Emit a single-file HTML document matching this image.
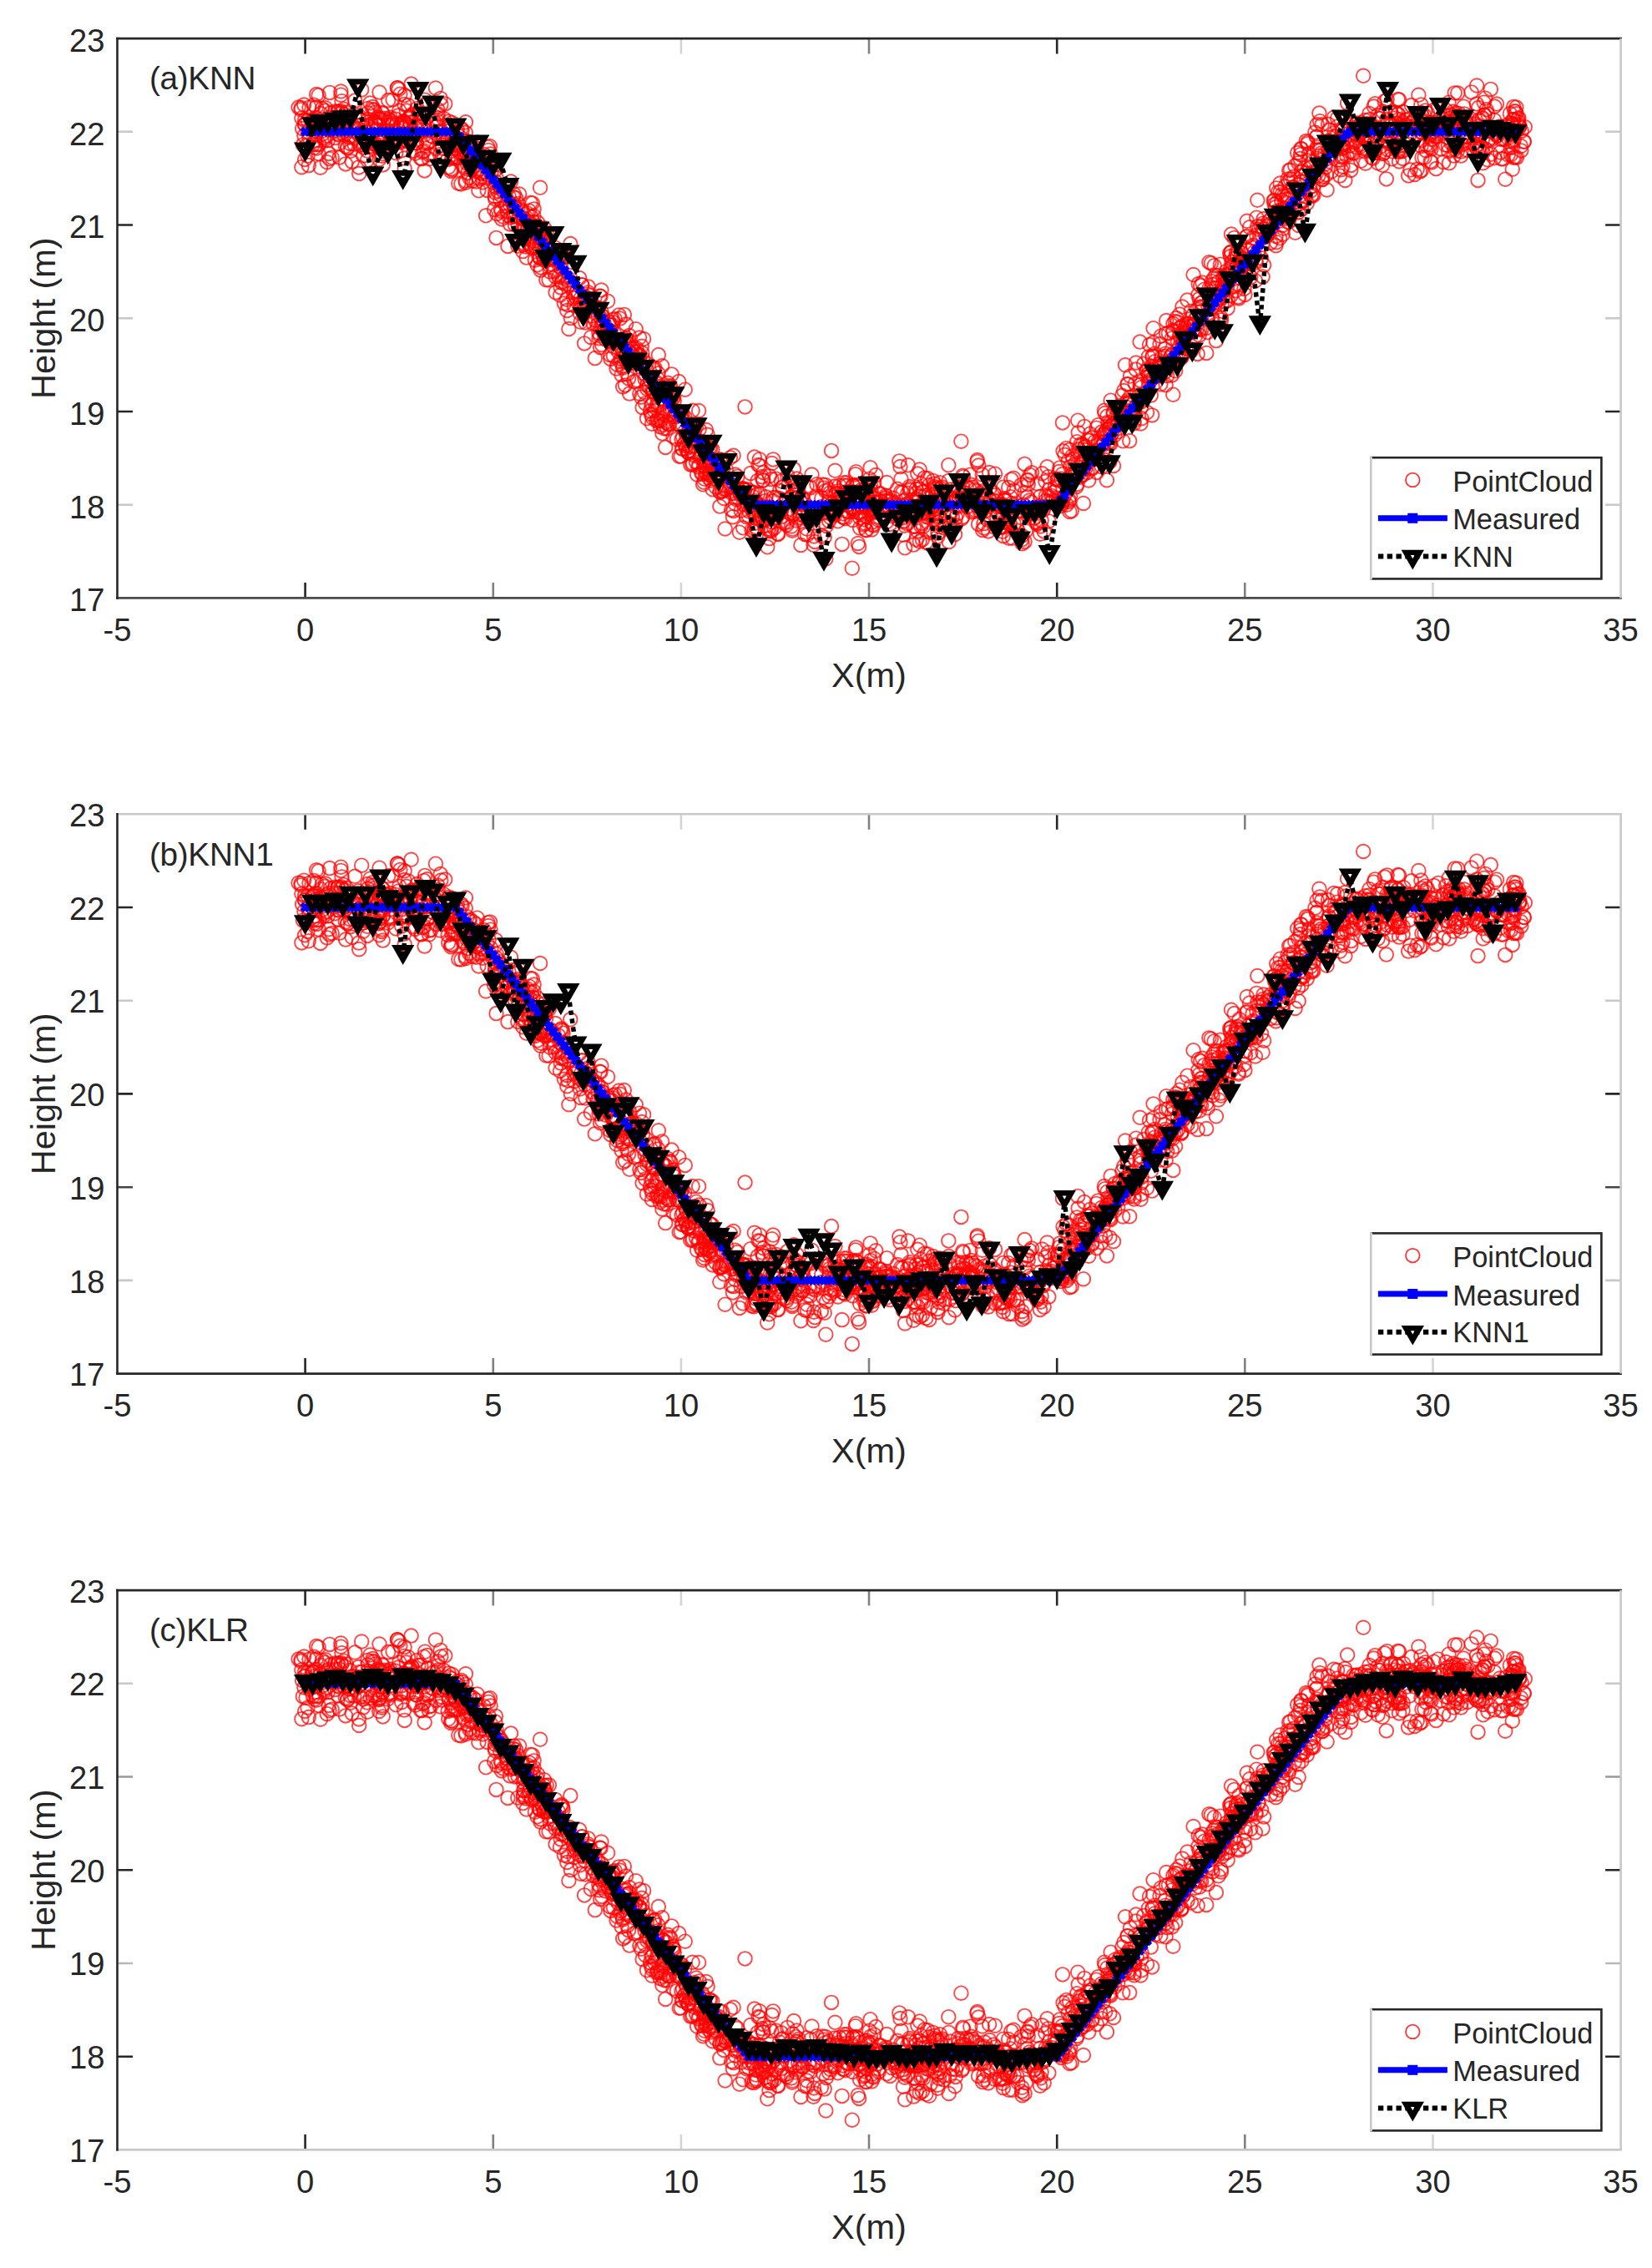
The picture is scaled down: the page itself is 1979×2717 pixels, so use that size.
<!DOCTYPE html>
<html><head><meta charset="utf-8"><title>KNN KNN1 KLR profile comparison</title>
<style>html,body{margin:0;padding:0;background:#fff}svg{display:block}text{fill:#262626}</style></head>
<body>
<svg width="1979" height="2717" viewBox="0 0 1979 2717" font-family="Liberation Sans, Arial, Helvetica, sans-serif">
<defs>
<marker id="mc" markerUnits="userSpaceOnUse" markerWidth="22" markerHeight="22" refX="11" refY="11" overflow="visible"><circle cx="11" cy="11" r="8.3" fill="none" stroke="#ff0000" stroke-width="1.9" stroke-opacity="0.72"/></marker>
<marker id="mx" markerUnits="userSpaceOnUse" markerWidth="16" markerHeight="16" refX="8" refY="8" overflow="visible"><path d="M3.8,3.8L12.2,12.2M12.2,3.8L3.8,12.2" stroke="#0000ff" stroke-width="5" fill="none"/></marker>
<marker id="mt" markerUnits="userSpaceOnUse" markerWidth="40" markerHeight="40" refX="20" refY="20" overflow="visible"><path d="M6.3,8.1H33.7L20,31.9ZM17.5,14.6H22.5L20,18.9Z" fill="#000" fill-rule="evenodd"/></marker>
<filter id="bl" x="-5%" y="-5%" width="110%" height="110%"><feGaussianBlur stdDeviation="0.7"/></filter>
<polyline id="cloud" points="1275.6,498.7 1675.7,135.2 1497.0,226.2 687.7,311.1 797.9,460.0 1640.9,109.9 364.4,116.5 1564.0,189.1 1528.4,248.1 1044.6,579.6 802.1,415.8 766.0,358.4 731.3,343.6 1011.0,532.1 1098.4,570.1 1170.4,560.3 1820.2,105.4 1522.0,244.8 1271.3,559.8 1810.5,109.5 673.2,291.3 592.2,204.9 1257.2,540.3 421.2,117.6 409.1,88.9 1113.6,558.7 1042.0,565.3 1705.0,108.9 1281.7,530.7 1112.5,573.5 1087.1,567.6 720.5,327.7 374.0,97.3 639.5,212.6 1374.0,447.9 651.6,265.4 899.9,563.2 362.1,107.9 1576.9,161.1 583.7,181.9 750.0,364.5 1650.9,107.9 1106.1,584.6 1602.1,95.7 1297.1,486.1 1447.1,329.3 491.1,93.2 1152.2,575.0 1103.1,533.4 1637.6,117.3 887.7,565.6 1236.1,565.1 443.7,128.8 926.5,554.0 831.5,481.7 577.4,161.8 1556.8,188.6 914.5,520.0 1795.5,109.6 1224.0,600.5 1246.2,548.7 1294.6,486.2 1351.1,433.3 578.3,172.4 1004.0,562.6 708.8,332.5 948.4,570.9 498.8,125.0 1779.5,132.4 672.7,257.0 1344.2,448.6 798.3,422.0 1641.7,117.7 1330.2,464.6 550.1,135.6 1599.0,117.6 1745.8,93.2 1685.5,106.4 1194.2,573.6 570.5,171.5 639.6,204.3 1720.8,118.0 1168.6,565.1 622.1,186.4 1656.3,87.5 1299.8,493.0 1194.2,567.5 909.8,504.1 960.8,549.8 708.7,317.2 412.6,115.5 1644.8,143.6 1044.3,588.4 1161.7,549.5 830.3,475.3 1461.2,303.9 393.7,137.9 903.8,587.4 401.3,119.0 537.3,154.2 1778.5,91.6 1323.6,448.9 986.2,568.1 1126.6,539.0 1639.8,125.5 862.7,543.6 1224.4,595.7 1361.7,439.1 879.1,545.0 1119.8,537.0 1481.7,258.6 1693.3,98.6 578.7,159.4 1728.9,96.9 364.2,79.4 1463.6,319.2 1548.2,197.3 557.7,170.4 972.5,522.4 1555.2,149.2 377.6,94.9 1280.6,554.9 1522.5,216.1 1110.8,563.8 1423.7,344.6 689.5,309.1 648.5,241.1 890.5,558.2 620.4,197.9 865.4,521.8 1750.5,118.3 1199.5,561.1 856.6,526.8 755.8,371.1 1756.3,117.8 1010.1,552.0 1798.0,120.5 1114.5,591.8 1122.8,538.3 1674.7,135.4 1448.6,299.4 1210.3,549.1 983.9,595.6 1647.7,133.0 961.8,570.1 1713.2,130.1 457.7,138.1 988.8,542.0 1120.4,563.9 1754.7,103.1 725.6,360.5 1541.6,188.7 1351.1,456.2 1410.9,363.5 1282.3,513.2 1785.0,110.7 845.7,513.8 942.2,582.8 654.9,257.2 431.2,104.0 669.6,285.4 1702.5,128.9 1591.8,122.4 521.9,59.4 1244.3,561.6 1061.1,551.1 1230.9,549.1 1325.9,529.1 807.5,452.3 1770.0,127.5 1041.5,527.6 1280.0,534.4 1290.5,533.9 627.0,230.3 447.6,108.0 961.6,571.1 1479.9,275.7 1555.1,208.5 1429.8,343.7 523.1,97.9 1699.4,67.7 1535.7,187.2 1647.0,105.9 1126.0,532.1 1702.8,88.9 425.2,74.5 401.2,87.5 386.4,114.4 728.2,348.4 722.1,342.4 632.3,225.4 1190.3,554.1 413.9,129.2 1224.6,605.1 600.7,206.9 1353.2,482.0 387.6,110.2 813.2,462.2 1736.1,149.2 1148.2,543.2 1549.8,165.7 1324.0,472.0 1254.5,513.2 637.8,197.3 1201.1,585.5 415.0,88.6 1535.2,193.9 1768.1,102.4 1612.2,98.2 431.2,127.8 854.5,527.7 824.1,494.7 522.3,131.9 1277.8,533.3 1529.0,244.1 817.8,491.6 1625.1,101.4 1528.5,213.9 546.5,120.0 1484.0,311.5 1654.2,129.3 646.7,262.8 1200.0,557.8 1295.7,523.2 1252.4,530.7 498.1,113.2 1328.7,467.8 1285.7,521.9 1567.9,146.3 1537.9,210.8 837.6,468.3 1418.1,343.3 1631.7,109.6 1669.4,110.8 594.1,171.9 395.9,89.0 1313.4,466.6 672.2,274.6 1185.4,539.0 1745.6,109.1 914.3,529.4 728.2,354.8 1027.8,604.9 1322.9,445.7 505.3,109.9 916.1,583.7 553.2,139.2 1330.5,485.6 1577.7,103.2 910.7,545.7 903.1,590.0 1149.8,546.4 672.8,292.6 720.4,301.4 841.6,521.9 1029.1,608.8 476.5,110.2 1463.3,303.6 1207.9,567.8 797.2,489.8 470.6,102.2 1478.6,238.8 549.3,173.7 552.5,107.8 548.8,143.2 476.1,59.2 1689.2,102.0 752.5,389.2 807.1,429.9 1581.0,134.5 1268.0,554.0 631.8,215.6 995.9,570.0 1656.1,151.7 908.5,511.0 1401.7,382.4 499.0,125.6 1425.9,336.1 1498.2,286.0 1570.6,188.9 1347.8,454.8 901.7,566.1 451.0,110.1 1119.3,533.5 1470.2,297.5 637.2,227.4 748.0,366.0 1144.8,582.8 1456.8,299.0 1674.7,132.8 541.5,100.8 627.5,215.9 1532.1,207.4 1304.2,529.4 1416.6,353.0 1822.0,128.9 1737.4,95.9 1596.0,133.2 1499.1,268.1 937.4,537.8 1299.3,489.5 627.8,239.7 1473.2,257.1 1470.5,293.2 1417.0,361.9 1010.6,555.8 912.6,573.9 973.8,568.5 405.6,115.3 1597.9,94.7 1154.0,525.1 926.3,564.1 1162.3,522.6 1417.5,355.3 917.4,549.2 1577.8,130.3 1708.4,105.2 926.2,504.3 559.2,135.6 1474.5,308.2 1816.4,82.5 574.2,167.8 1404.4,378.1 1570.0,182.7 1710.0,89.4 538.0,103.9 491.6,93.9 1808.9,89.9 528.3,79.3 616.6,213.2 1201.9,537.6 1012.7,575.2 1459.8,308.2 636.8,214.2 1701.0,103.0 675.9,317.5 1487.3,256.9 456.0,115.8 1052.6,576.9 404.5,102.0 818.0,477.4 815.7,500.5 1414.8,382.8 1025.6,519.1 440.1,145.6 1820.0,106.7 1663.2,98.1 1703.8,97.4 719.1,370.0 936.0,565.7 690.6,303.2 540.3,105.8 405.2,126.1 1096.6,584.6 537.7,99.5 615.8,186.5 1621.7,107.0 1068.5,572.2 626.7,215.9 1341.4,449.4 747.5,360.0 1131.3,586.5 772.6,408.1 1115.5,562.1 1280.7,552.8 1144.9,553.8 938.2,557.8 1519.2,233.3 1640.7,103.4 620.3,248.6 557.0,139.8 523.0,105.6 1796.8,105.4 1740.9,87.7 695.7,339.7 1782.5,145.4 662.2,264.8 1101.2,548.4 1087.9,511.2 1701.8,97.9 416.2,131.2 820.2,453.3 1238.7,575.2 454.2,144.9 704.4,306.3 1040.3,551.3 1651.6,95.8 1475.4,267.8 1575.4,112.4 1475.5,273.8 1397.1,353.4 1605.8,145.7 1358.5,461.1 1438.2,296.1 800.1,412.7 603.1,183.6 1468.8,283.7 600.4,187.9 1708.4,127.1 1233.8,522.8 840.9,482.8 1733.6,100.4 584.7,163.3 1113.0,535.2 491.2,100.5 1776.0,95.1 1202.5,584.7 1538.1,188.6 771.1,359.9 1535.4,215.1 1389.9,392.6 1302.9,481.1 1754.1,90.3 993.9,544.6 966.9,594.7 1374.2,398.7 1584.3,169.0 849.2,526.4 1341.1,440.0 663.9,279.0 1167.7,540.5 1487.4,274.2 452.7,94.4 1426.7,326.6 379.3,131.7 1765.5,126.1 1045.6,582.3 958.0,570.5 1415.8,381.0 1126.0,573.3 1431.1,341.7 481.2,134.1 1184.0,590.3 1177.1,589.0 1727.0,101.6 414.9,110.4 1022.3,535.7 1284.4,500.4 1166.3,566.2 465.7,96.7 1228.8,590.0 683.3,246.0 644.1,220.5 1648.4,116.7 647.5,277.5 1024.5,550.1 1459.7,342.2 1396.5,398.8 1170.3,541.9 1543.1,191.9 1041.5,569.6 1268.7,518.9 1560.6,194.5 1353.5,430.0 1300.2,515.6 953.7,577.5 1177.5,548.2 938.9,580.7 1450.9,269.2 915.9,570.6 1042.6,514.1 1467.3,315.2 1097.1,545.0 853.6,540.1 1572.2,186.8 916.7,554.1 1598.5,113.2 1511.1,263.1 1014.2,532.1 1404.7,388.7 407.2,108.8 929.7,549.9 1621.4,102.0 1208.6,598.7 1176.7,522.4 1333.9,448.9 1352.9,446.7 1214.6,581.3 975.0,596.4 626.4,255.0 786.9,416.6 787.3,437.0 989.9,583.9 1825.4,123.5 874.9,502.2 1014.3,566.0 903.0,568.0 1211.4,528.3 1750.2,101.4 1663.7,110.7 911.1,570.4 749.0,415.3 1656.8,137.9 1082.6,569.3 1364.5,427.2 464.4,103.8 1630.6,100.9 816.7,461.8 1083.7,553.7 647.8,274.3 974.5,606.7 1574.0,166.2 1573.3,176.7 1053.0,573.2 1485.6,273.4 1030.1,586.4 905.5,580.5 1159.2,560.8 652.6,255.4 822.0,488.2 1395.3,371.7 1489.4,267.3 440.0,134.5 1434.0,332.4 1558.4,132.0 1011.1,573.7 448.4,85.7 1360.6,396.5 718.5,308.4 1302.5,520.0 910.3,511.7 1293.4,510.4 736.1,369.9 1057.2,563.7 1128.0,545.1 1284.3,522.7 655.3,265.4 1771.0,83.0 781.7,438.4 806.5,477.1 733.4,343.1 455.8,96.0 978.4,534.1 1491.3,283.8 1399.8,352.9 644.2,236.5 557.9,100.2 829.2,510.5 1486.1,261.7 1074.2,564.8 1713.8,147.2 1321.6,493.2 1269.5,514.3 1485.3,278.2 1459.6,316.6 862.1,504.1 734.5,340.1 1000.0,536.5 1075.9,576.2 565.0,148.8 1005.5,535.6 1297.3,522.8 556.2,154.5 559.6,122.9 612.0,171.5 773.2,437.1 1770.5,169.8 394.5,144.1 626.8,247.7 599.3,193.2 1054.0,544.8 378.8,115.0 1030.2,574.2 596.2,182.7 753.0,407.3 1521.6,222.1 627.2,240.0 1263.9,537.1 954.0,540.3 970.6,577.2 1557.5,197.5 593.2,192.2 1714.8,148.5 1670.2,128.0 1339.2,471.2 429.3,92.0 1331.8,473.7 1239.2,573.8 1491.9,289.1 671.0,307.7 1758.2,113.2 1659.5,116.6 524.8,90.4 820.0,485.1 404.3,88.1 1578.2,143.7 1702.0,111.8 1811.8,156.6 1256.3,578.3 1335.7,442.6 1354.0,404.5 1194.8,554.0 1756.8,94.7 1250.3,561.7 850.2,517.4 1110.6,573.4 384.1,89.9 1421.2,342.0 1376.8,411.8 975.6,565.9 1608.4,108.7 1467.4,283.4 851.6,529.5 470.6,73.4 551.0,126.9 627.5,225.9 803.4,416.9 1014.5,535.7 1720.9,113.7 765.9,390.2 1677.7,135.6 1357.0,446.2 1611.4,169.9 949.5,531.3 361.4,154.1 1513.6,216.2 717.5,359.1 566.1,170.7 1532.0,212.2 1365.6,414.9 668.9,265.1 750.0,342.3 1737.4,103.7 751.4,364.0 1389.3,404.0 547.1,113.1 1554.9,175.2 529.5,127.9 1115.3,560.7 408.4,113.1 1165.3,554.3 1601.3,117.1 480.7,123.1 759.8,411.0 1480.8,256.6 1250.6,590.3 816.5,480.3 1281.2,492.7 1025.1,534.8 1624.4,130.0 787.3,414.0 1470.6,323.3 1291.2,457.6 1445.2,376.8 912.7,525.0 1422.4,313.4 1383.4,377.6 926.3,563.2 395.5,103.7 1772.3,131.8 1405.7,351.4 657.6,289.4 1431.0,343.2 766.3,380.4 1046.6,583.5 1620.8,123.6 1015.4,554.9 780.0,450.1 805.7,426.8 469.9,104.1 679.3,325.9 755.2,389.6 610.9,222.3 449.3,126.4 1041.4,556.9 671.8,298.3 1442.7,300.6 1712.9,127.5 758.0,370.1 1197.9,559.6 1101.6,539.5 467.1,123.8 540.2,134.9 1657.4,137.5 1053.7,545.7 1539.5,177.2 454.5,64.4 1231.1,528.7 1628.8,108.0 1631.3,117.8 365.0,103.0 1123.6,559.2 899.1,520.9 1474.0,261.0 464.3,130.4 746.1,392.3 1551.3,152.5 1046.9,551.7 1022.8,563.8 1780.6,85.2 826.9,488.4 418.0,118.0 933.2,568.8 582.1,212.2 477.0,92.4 1191.5,585.6 1758.5,124.4 1208.4,575.2 1308.0,478.4 832.4,488.3 1196.3,558.2 1462.5,334.3 1223.0,560.1 1536.8,234.6 1165.9,551.7 647.9,243.9 1213.3,558.9 1078.4,512.9 600.6,180.0 1266.9,528.4 1557.7,171.8 555.2,141.1 1157.8,537.0 1435.3,307.1 949.1,587.7 753.6,363.0 903.9,543.8 1153.0,537.1 1366.1,409.8 1178.7,586.4 514.0,139.4 1559.0,132.5 1714.8,106.1 505.5,144.0 723.5,340.4 612.0,214.4 1605.0,164.5 1694.9,162.9 421.7,147.5 845.3,497.0 639.6,242.6 1046.9,564.2 1711.5,105.4 459.8,98.3 608.4,248.8 1072.6,565.3 1127.0,577.1 1452.6,337.0 1000.1,570.8 564.1,149.3 876.5,544.6 1800.5,144.2 1460.3,310.4 527.7,71.8 1544.8,215.0 813.7,500.7 1505.4,235.7 375.3,98.4 1637.5,102.1 595.3,210.0 1026.7,536.3 1329.5,484.7 1103.3,583.9 599.8,204.4 561.2,145.6 774.9,397.7 433.7,97.8 675.0,287.0 547.9,108.9 1040.0,556.8 880.8,522.4 1219.4,589.7 769.6,442.0 406.5,94.4 843.4,531.7 1466.9,298.0 732.8,362.2 951.4,569.5 1466.6,301.8 954.5,527.5 1660.8,168.3 1706.3,92.0 813.2,411.0 1438.6,326.9 728.8,355.3 561.8,127.6 1000.4,517.7 1242.4,581.9 1732.1,109.8 571.1,159.0 1403.9,359.3 1055.6,555.0 550.3,117.2 1786.6,121.1 1379.5,402.0 546.1,143.1 1688.2,126.6 508.2,115.7 492.9,115.0 844.1,527.7 1735.6,76.6 405.2,114.7 1706.5,142.6 1255.8,525.1 455.2,128.4 1192.5,547.2 1031.1,559.0 1185.8,553.0 1440.4,321.3 1354.3,448.2 1822.7,110.8 587.0,129.1 1551.6,232.7 961.0,557.1 1508.2,228.6 1667.7,135.2 1815.0,142.3 747.8,330.8 1022.5,566.9 1742.7,65.3 1747.0,99.7 904.8,553.8 1738.9,101.1 953.4,544.4 907.6,529.8 1469.0,278.8 1049.4,555.4 1015.6,554.6 924.3,528.0 992.9,540.3 562.2,166.7 446.4,125.9 1465.1,286.1 1186.5,572.5 1344.4,456.4 1536.2,223.8 694.9,317.7 700.3,309.2 765.2,379.0 803.4,449.7 1475.0,234.5 906.7,557.7 831.8,470.0 1292.1,492.2 630.9,219.3 513.1,124.2 1381.5,364.4 1468.7,292.3 792.3,431.8 1291.7,472.1 406.7,142.5 951.0,516.0 1206.3,564.2 729.2,339.3 868.6,587.4 1252.8,548.3 1223.9,565.8 583.3,154.7 1395.4,380.7 474.3,137.2 1782.3,90.6 654.1,244.4 729.4,342.3 651.1,233.5 1814.3,87.1 778.0,418.0 1246.5,584.4 1813.0,142.7 1753.4,81.6 418.9,95.8 1122.8,556.3 1240.6,565.6 1389.3,389.9 850.5,508.9 838.7,502.3 362.9,127.3 408.4,63.4 1165.3,553.5 468.2,125.3 654.3,289.2 846.6,520.9 460.2,95.6 402.0,94.8 1719.3,116.6 996.5,557.4 657.8,271.5 1398.2,404.0 370.5,82.6 716.8,331.4 1769.1,56.4 1676.4,128.6 1291.5,518.3 493.7,92.1 824.2,481.8 397.7,142.7 678.9,312.6 394.0,109.5 542.1,117.3 1287.6,522.2 504.3,89.8 585.6,150.6 1683.9,104.5 849.8,508.0 846.2,509.8 483.9,99.4 1526.8,194.0 1351.0,438.2 1161.0,548.5 1265.1,550.5 504.2,143.8 739.3,390.7 1214.7,541.3 1756.6,101.7 1557.9,139.1 1298.6,505.3 1119.4,539.3 378.9,82.2 1666.1,89.5 454.9,125.3 546.4,132.6 1375.5,405.3 1550.6,206.0 1513.0,221.6 1021.7,535.7 616.9,223.3 408.5,67.6 1608.3,127.7 1794.0,116.3 715.5,343.4 1629.9,129.2 948.4,549.2 814.4,463.3 1099.3,521.5 368.6,98.1 1007.5,546.6 650.0,259.6 1404.0,403.3 1095.5,560.6 1634.0,131.8 1674.8,90.4 822.3,474.6 768.8,368.7 1737.3,95.3 1097.6,539.9 498.5,106.8 424.1,107.1 1812.7,97.1 1208.1,537.9 436.7,127.6 1108.3,547.6 1097.7,600.2 996.7,560.6 1755.2,117.4 1751.5,127.2 540.4,156.1 579.7,138.8 955.7,557.2 1582.8,137.5 1273.6,494.2 1429.6,282.9 1203.5,578.4 665.4,250.8 1558.9,159.5 377.2,102.8 1383.5,387.2 642.3,245.4 1049.2,523.0 1790.2,97.9 1149.1,550.8 440.4,83.8 987.0,538.5 1327.3,459.6 440.0,104.4 728.1,314.7 383.6,100.3 1150.6,560.5 917.5,576.8 1097.1,566.2 791.6,458.2 1322.2,474.0 611.1,199.4 1689.5,157.5 1768.1,111.2 1081.4,544.0 1040.8,554.8 1620.4,136.9 782.7,395.2 1537.3,216.5 779.0,446.2 1415.1,381.6 847.7,506.3 1242.5,533.3 1717.8,85.6 436.5,107.0 1543.4,219.8 1153.2,573.2 913.9,577.3 871.6,537.8 458.7,151.3 736.5,362.2 1272.7,521.9 500.1,115.3 1340.8,442.4 1771.3,132.7 1798.5,144.2 1663.9,125.9 1542.5,168.5 618.2,191.2 1782.9,121.9 654.7,233.7 1634.3,120.0 1647.2,78.1 1270.9,527.3 1123.0,568.7 651.3,238.5 1120.3,575.9 783.9,445.9 541.7,157.1 545.1,121.6 1534.5,205.8 1712.7,113.4 565.2,156.9 376.1,79.6 744.2,384.0 554.3,152.0 633.9,206.4 1214.2,526.7 977.5,551.0 987.7,597.5 658.9,279.4 1333.7,448.1 782.3,422.6 943.4,523.8 1037.9,589.1 1686.3,96.6 718.8,356.2 1413.2,330.4 811.4,461.8 1671.6,88.7 936.0,573.0 1099.3,590.1 1646.3,136.8 1345.7,460.0 495.4,134.8 557.8,112.7 1813.2,81.8 399.4,105.6 799.0,467.3 1766.3,114.4 378.8,127.0 593.9,150.8 670.3,273.5 483.6,100.8 1050.5,567.5 1227.6,602.8 824.6,494.1 516.4,138.6 1548.9,178.0 1539.3,196.3 1183.0,576.5 559.1,149.6 1153.3,523.6 1282.1,547.8 986.3,579.1 1626.6,119.1 930.1,574.0 1107.7,568.2 524.4,103.8 1185.1,519.9 1483.4,309.8 1431.7,336.7 734.4,361.2 1814.8,113.6 1415.0,361.8 979.6,566.2 966.6,536.1 1502.4,256.2 614.9,212.9 1297.0,508.5 1413.4,357.2 1115.7,562.4 1640.4,89.9 1045.6,558.8 1040.1,554.7 775.2,415.1 1708.2,134.1 821.6,491.5 1378.8,427.5 958.4,554.3 1731.8,127.7 1750.3,135.4 400.8,106.4 1818.7,100.0 1246.0,593.6 465.2,74.0 1087.3,557.9 429.4,114.1 1163.6,534.7 629.3,226.7 897.6,566.5 804.6,402.3 1242.0,579.5 1565.6,167.1 1733.5,92.8 840.1,520.4 1194.2,560.9 365.3,103.1 903.8,501.5 1769.0,131.7 531.3,119.5 1635.4,97.9 1315.9,482.7 788.7,458.0 1500.6,238.9 781.9,420.1 1672.1,101.8 478.3,86.4 531.6,95.9 1459.3,291.9 1017.0,551.6 573.4,182.2 1111.5,561.6 793.2,432.0 1164.2,567.5 1450.0,310.6 1616.3,135.6 443.4,77.4 1227.5,509.8 1802.8,120.4 1032.6,549.6 1488.0,269.4 499.6,83.8 1640.8,102.5 1212.3,556.8 1662.5,116.7 1513.8,228.3 1634.5,135.1 440.9,96.6 1408.6,381.8 646.2,237.9 747.4,375.7 834.1,464.4 1226.0,558.4 1279.7,506.2 1726.0,132.3 375.3,98.1 641.0,248.2 888.8,544.0 1559.2,171.4 1165.1,537.7 1109.3,603.7 1474.2,274.6 1319.7,513.1 782.8,396.6 484.7,155.8 1036.3,581.0 1650.6,149.2 1236.0,520.2 435.0,140.5 1003.6,556.0 922.1,570.0 1212.9,598.7 1219.8,565.9 1755.2,96.9 853.7,517.5 956.6,537.6 1258.6,556.1 1659.8,111.6 1394.8,392.1 1048.9,550.9 1554.2,137.0 1070.1,550.5 1773.2,107.4 771.9,423.7 543.9,143.3 1577.4,117.7 793.7,462.4 1602.4,145.6 1252.5,553.7 1104.9,568.1 484.6,68.0 1512.6,285.5 453.6,103.6 1775.5,95.8 1645.9,137.0 802.0,462.5 544.6,117.3 1658.7,75.3 1062.1,579.2 540.2,158.9 1089.5,536.9 719.5,309.0 956.2,566.1 1297.9,556.9 1702.4,79.3 1534.1,209.5 593.3,157.5 1058.4,559.6 1079.8,567.0 1811.3,121.8 484.4,78.8 1107.5,526.5 1700.9,159.5 943.0,579.5 741.4,331.3 1173.9,566.8 827.2,510.5 1719.6,111.6 481.3,114.1 660.5,270.2 479.9,122.4 1403.2,379.7 787.6,439.9 1680.0,104.3 1670.4,129.9 1733.3,118.2 733.2,363.7 357.6,82.5 926.5,549.9 1771.7,114.2 1479.4,263.1 444.3,102.6 1389.5,366.0 1704.9,100.4 1779.3,71.6 1409.2,335.0 1625.4,115.2 1594.1,141.6 883.4,524.8 502.2,100.6 1426.1,345.5 557.9,172.6 921.5,599.0 1820.5,103.9 1179.6,541.4 1123.7,540.6 1750.2,140.5 774.2,389.5 1825.9,123.7 1697.4,103.0 891.6,540.7 837.7,511.4 542.7,138.7 1702.8,158.0 629.8,249.5 369.8,152.0 1665.2,102.0 1235.9,555.5 1344.3,427.7 1434.5,324.8 419.4,125.9 491.7,104.1 1091.5,567.3 430.5,98.1 1098.1,551.5 1439.2,348.8 1323.1,475.2 1263.2,543.5 424.9,118.6 704.5,304.1 1676.1,73.4 537.8,130.2 1140.5,566.4 430.2,161.9 1737.4,114.6 608.9,212.1 959.4,606.9 1160.5,552.1 1413.2,346.8 1734.8,128.1 1439.2,335.0 867.3,550.9 467.4,94.7 1396.6,415.1 1786.4,118.7 381.6,68.1 1495.5,253.4 615.6,200.4 1032.8,561.9 1125.0,584.8 1259.9,547.8 1811.4,102.6 1367.2,441.7 933.5,550.8 1407.8,339.0 1042.8,534.7 964.0,593.9 894.2,573.2 1082.0,594.6 770.0,383.4 712.6,320.6 574.9,143.7 1003.8,578.2 787.8,456.0 1587.1,137.8 1603.2,122.4 862.2,542.6 1266.9,538.6 1683.1,97.3 884.7,540.4 1172.1,581.8 1008.7,605.8 1312.6,494.5 1767.6,108.0 560.4,148.2 1775.9,121.3 1335.4,475.1 1526.7,198.6 1290.4,517.8 1636.1,109.8 836.3,513.3 1397.6,393.8 744.9,371.8 1104.4,581.0 1358.5,458.1 652.3,265.0 446.5,84.9 1519.4,219.6 1545.9,157.4 1335.3,462.7 829.2,489.6 1324.2,505.0 479.9,124.6 1330.6,433.6 1203.7,551.2 1264.0,527.7 1013.8,542.8 687.6,302.8 1423.8,351.0 1039.0,555.9 1452.5,294.7 892.0,540.0 485.7,100.8 1154.1,555.1 1272.2,554.1 1711.8,117.6 1661.8,132.8 440.6,89.3 1491.4,306.8 740.9,375.2 1381.6,347.1 914.5,565.0 830.1,509.2 1074.5,559.0 1136.6,529.8 1377.6,409.1 1294.4,498.0 1353.8,433.8 921.3,566.4 1352.4,458.2 864.4,524.5 1249.8,564.8 1032.2,569.5 1184.0,550.1 382.4,102.6 1089.9,541.3 680.0,289.7 923.8,590.2 465.1,99.8 1322.4,483.2 1670.2,118.1 877.9,573.1 511.1,125.6 1268.5,556.5 543.4,126.8 1667.4,144.2 536.7,120.2 888.6,545.5 1083.9,583.6 529.9,131.7 825.2,496.8 761.3,376.0 1405.3,426.6 1806.6,119.4 890.1,586.2 1519.1,234.0 563.0,126.3 1209.2,572.6 992.8,555.5 780.3,439.3 1564.7,122.8 1454.0,287.3 553.6,110.0 786.5,458.0 1561.4,194.8 1815.7,87.6 1255.7,554.1 1638.2,118.1 1803.6,104.3 1445.3,346.8 1304.5,481.8 681.9,294.8 901.2,543.7 1273.3,550.7 1718.6,100.2 800.4,461.8 937.6,537.2 389.3,86.5 1380.9,380.9 1008.7,547.0 1529.4,197.0 700.1,365.3 1326.4,452.4 1346.2,451.9 1039.3,556.5 633.9,240.5 949.0,589.7 1452.0,322.4 634.8,220.6 489.0,80.1 1037.0,572.5 701.4,340.3 1533.6,173.4 1558.1,194.2 1746.3,65.4 1591.2,134.0 1308.5,513.8 631.6,209.3 1566.6,125.9 1427.0,374.3 1454.6,272.1 1382.0,406.2 1576.9,117.9 794.5,447.0 1345.2,482.2 1117.1,547.4 853.3,492.3 837.1,445.9 585.2,133.8 1079.3,543.0 898.7,558.8 976.3,570.2 1608.7,127.5 1358.6,448.5 1356.7,438.4 1803.3,168.6 676.9,284.9 1103.3,559.2 492.6,54.5 934.1,541.5 1753.8,122.4 482.9,99.1 1470.6,313.8 1628.9,127.0 1104.9,600.3 1529.2,179.3 1005.0,545.3 876.1,564.6 1100.1,559.9 642.9,224.5 808.7,445.5 805.6,444.1 1809.7,130.9 849.4,522.4 693.1,307.4 1738.2,91.2 560.4,160.8 1776.5,136.8 1611.1,94.0 1307.9,515.5 985.6,534.5 646.6,244.9 512.8,93.3 509.1,73.6 869.9,516.7 955.2,541.2 1714.6,132.2 1145.0,574.1 1813.0,97.3 1416.4,321.5 571.7,124.4 1170.5,506.8 590.9,172.6 414.3,107.2 1744.1,89.2 853.3,512.6 635.4,237.4 506.3,135.8 1315.4,463.1 1034.6,582.5 373.8,100.3 1408.1,398.2 734.0,337.0 1504.2,266.4 1075.0,539.7 1144.0,594.1 1028.8,568.4 1350.4,414.0 1812.1,129.7 1529.6,209.4 458.2,122.4 1084.1,610.2 701.1,312.8 507.2,102.8 643.6,271.2 721.4,332.7 1767.6,129.5 1451.7,333.1 1610.6,119.7 1384.0,412.6 820.7,420.6 931.6,593.2 1004.5,542.1 788.0,408.1 976.2,602.8 1490.4,299.8 467.9,99.2 763.2,409.5 1060.9,550.0 1350.8,414.4 1306.2,505.2 1422.5,371.9 511.4,110.7 622.4,214.9 810.9,480.1 770.8,401.3 1467.5,285.3 1817.0,142.7 1360.9,388.4 405.2,87.5 794.1,419.1 1537.2,227.6 1715.5,120.8 1231.2,569.7 869.5,540.9 878.7,565.8 1287.9,509.9 1627.1,108.7 857.7,510.1 637.0,249.4 360.7,82.9 558.7,136.3 1608.0,109.8 1274.9,548.5 1813.0,113.0 458.8,90.1 894.7,558.4 1526.4,220.5 1328.7,483.0 454.6,96.8 946.8,568.6 1294.0,525.6 1367.7,434.8 1020.7,546.1 633.3,245.3 1776.7,149.2 1042.5,544.7 1411.2,378.1 1142.9,550.6 475.3,103.4 704.6,297.3 449.3,88.4 637.1,251.1 650.9,259.6 966.5,587.4 829.6,445.7 889.6,539.0 1557.6,144.0 388.0,118.8 508.6,158.3 1544.2,157.9 1141.6,556.5 1001.9,555.6 749.6,380.2 1153.9,544.2 682.4,283.9 1618.5,151.8 1568.1,137.6 829.8,495.3 392.7,122.2 1661.6,73.1 795.7,419.5 1322.3,483.9 1618.2,157.8 1530.3,206.3 1624.6,102.4 1075.7,560.4 1594.9,159.4 1034.6,576.2 744.5,402.9 1063.7,553.8 849.7,490.2 1484.5,245.8 1579.4,164.5 564.2,141.3 598.4,176.6 920.7,569.4 1037.7,561.9 1762.6,64.3 1741.1,107.1 1778.3,92.0 1429.5,348.8 1352.3,437.1 754.1,425.5 904.5,556.0 360.6,85.1 1581.2,99.1 762.5,371.1 473.2,96.4 820.6,470.6 831.7,499.3 1421.0,353.5 365.0,98.0 694.8,329.2 1674.6,90.9 1613.4,140.4 1281.4,566.9 1178.4,581.2 683.9,335.0 1643.2,142.7 1475.0,255.5 1110.7,563.1 593.4,177.7 673.9,259.3 914.2,529.2 843.4,512.0 446.4,82.0 954.1,550.0 1016.3,558.5 778.7,408.5 921.6,589.9 845.3,520.6 910.6,559.2 1266.7,528.2 1087.8,566.9 647.1,253.9 1525.8,194.1 1111.1,527.0 1030.5,541.4 1405.4,341.7 1462.4,306.0 1604.9,130.3 1549.3,178.6 1340.2,460.2 1416.8,366.7 587.6,138.4 1384.6,401.0 730.7,379.0 735.7,352.8 533.2,78.3 940.1,556.7 385.9,84.2 1322.5,485.9 1456.5,315.5 1496.8,268.3 546.1,131.4 1299.1,464.8 1589.0,163.2 409.5,75.1 640.9,265.6 750.3,387.5 1035.8,539.9 609.7,189.4 1148.9,552.3 862.3,560.5 1319.7,471.5 1137.8,581.4 1365.6,363.5 718.8,347.0 1396.1,377.6 1436.7,355.5 1418.0,364.5 457.3,140.6 1747.6,89.8 1204.7,564.4 757.0,378.2 994.9,573.9 1117.6,569.8 1117.8,529.8 721.2,366.9 746.2,417.3 891.2,540.7 1504.7,268.3 999.7,568.4 413.4,91.3 1021.4,576.9 652.7,238.4 374.9,126.9 1793.0,78.4 788.4,401.2 1146.8,569.1 883.2,549.2 435.1,130.3 1681.1,107.2 1732.2,86.0 630.7,262.5 971.1,538.1 905.9,585.4 602.5,213.4 1329.4,507.2 1506.3,193.7 1473.5,281.4 1349.4,436.2 382.3,126.8 694.2,287.0 1113.2,605.6 1389.9,389.2 924.7,508.9 1017.1,567.1 1592.6,133.4 391.2,96.7 751.5,401.9 782.9,423.2 1816.2,90.2 691.1,302.7 425.9,103.4 968.9,566.4 1311.5,483.1 582.2,167.2 1591.1,102.7 645.5,232.7 1392.0,392.5 594.5,238.8 1652.9,95.8 652.6,241.1 1431.8,356.6 1589.6,181.4 731.4,383.8 493.1,91.1 1218.3,582.2 1090.3,568.9 1061.3,553.7 1505.3,214.6 1037.5,559.0 1087.3,560.8 1073.0,570.8 1024.9,522.1 953.1,534.8 593.2,184.5 790.8,465.0 746.1,394.6 721.5,332.7 1507.5,255.3 524.3,95.7 658.6,257.6 1130.5,552.0 816.1,451.4 709.7,319.5 905.6,574.8 1094.7,565.9 1348.0,391.2 1785.9,138.7 1610.1,130.7 988.8,534.8 1020.6,562.1 967.8,576.7 707.9,357.9 1755.9,99.7 457.6,88.9 657.9,233.5 1329.8,465.5 1223.4,534.8 766.3,425.7 1734.1,108.0 958.6,573.7 1233.2,553.4 490.5,95.0 1666.4,87.8 508.1,134.6 935.9,530.2 1658.6,122.3 1745.9,134.6 1685.6,115.5 1573.3,188.1 699.6,317.7 403.5,105.2 1020.9,563.1 449.5,99.7 1768.8,118.7 368.7,111.6 835.1,522.4 655.5,260.7 376.8,130.7 1090.4,568.6 468.4,113.8 1679.7,107.4 1367.5,455.2 900.6,589.1 1593.9,139.3 1528.1,202.2 836.5,484.0 1602.2,105.4 1723.0,82.6 1268.0,529.7 873.8,536.5 1680.6,134.8 1742.8,132.9 867.2,539.6 483.5,105.8 1632.4,108.0 1334.0,461.3 697.7,318.8 1190.1,544.5 809.7,453.2 1708.0,105.1 859.6,513.6 645.2,260.7 420.2,134.7 860.2,510.3 1811.3,102.4 677.6,294.7 1030.0,567.9 1785.8,60.8 366.5,128.7 790.4,438.2 1563.9,161.2 497.4,137.7 1721.4,109.1 1583.6,103.2 566.9,128.9 1227.5,543.8 1173.3,545.3 1376.5,404.5 807.7,434.0 921.4,561.5 710.6,341.3 785.8,425.1 615.0,189.9 1686.2,104.3 1661.3,96.7 885.9,591.6 1375.8,381.2 1077.4,506.3 769.4,376.8 870.6,539.9 1775.6,130.7 858.6,513.2 1207.4,580.6 1746.1,95.5 794.1,449.8 1545.9,168.6 524.3,85.2 1434.7,377.8 1542.6,187.7 1587.8,154.3 1790.1,143.2 1401.8,388.3 1793.3,116.6 765.9,379.0 1123.4,592.6 671.4,258.4 479.4,66.6 1001.9,545.2 1414.7,345.9 1501.1,247.7 381.6,138.0 1741.8,99.8 720.1,335.3 786.2,411.6 1580.4,89.5 1671.3,95.5 1439.3,317.0 845.9,468.9 1037.1,588.6 1583.6,168.8 881.9,551.8 1540.6,211.5 1506.3,225.2 1045.6,565.7 1674.7,72.8 921.9,524.1 1459.1,283.9 1297.2,516.9 843.6,487.1 1138.4,540.5 1247.6,577.5 1145.8,550.8 519.4,98.5 1814.2,106.9 1777.7,76.6 411.7,84.6 1744.9,130.2 1138.0,555.8 541.4,143.2 1563.0,155.3 993.2,578.0 1405.1,349.7 1572.8,147.4 1147.6,536.9 429.6,115.0 1565.8,197.3 1377.0,366.9 1694.7,115.6 753.8,356.0 1510.9,225.2 1640.2,97.2 878.6,499.7 959.7,551.0 847.6,474.7 365.1,144.9 697.1,295.1 844.0,506.9 516.0,116.5 1482.1,271.5 984.3,550.8 1192.0,521.6 775.0,455.2 886.4,545.8 1464.2,310.6 1047.3,532.5 1233.6,566.7 978.0,548.4 1175.6,567.5 1675.9,96.8 749.8,358.9 1119.7,567.5 1367.0,418.1 484.2,143.5 1770.9,104.9 1089.9,539.5 717.3,352.7 1474.6,256.3 1555.7,223.9 1283.7,565.9 1703.5,142.7 487.3,122.6 1132.3,558.2 1448.8,316.1 1704.5,113.2 1299.7,489.0 1242.1,566.0 927.4,586.6 1197.0,586.4 1172.3,511.4 1687.2,164.3 1572.6,160.2 1440.4,292.5 1714.7,100.9 453.9,130.3 1488.1,264.0 1038.2,539.3 1461.9,270.6 792.1,455.5 1043.7,541.6 1568.9,155.2 408.4,87.0 784.6,394.9 1074.7,566.3 1608.5,153.5 753.6,377.7 1566.7,123.9 716.1,323.5 802.3,443.3 1170.8,504.9 1318.0,505.1 1650.5,91.7 1649.6,124.6 724.4,348.2 1452.8,307.3 1290.2,483.1 924.3,579.1 1497.5,263.9 1676.1,147.3 1061.1,547.7 1703.4,122.0 544.3,117.2 601.0,216.3 1480.1,282.3 805.8,429.7 1217.2,562.3 1087.4,544.6 571.0,142.8 1465.5,300.9 1446.6,352.0 570.1,131.6 738.5,363.5 1533.6,183.8 1697.7,156.7 1635.8,149.6 1094.4,606.5 896.8,572.2 1011.2,535.3 615.9,198.7 1085.8,559.3 696.1,310.4 594.7,167.4 916.2,564.3 450.6,102.9 1048.1,555.5 1380.1,451.3 1314.3,495.2 1790.4,81.4 1658.9,120.6 1288.3,522.3 1676.3,125.3 1010.0,569.4 1531.1,183.9 774.9,419.5 1131.0,581.4 1797.2,136.5 1237.0,569.4 1101.7,602.5 1514.1,271.5 815.8,447.9 1578.4,133.5 383.9,154.6 706.9,308.1 617.2,202.7 735.0,380.3 1746.7,95.3 391.8,148.1 795.8,467.1 1201.1,590.7 1390.3,414.1 1494.2,236.6 920.1,587.7 680.3,319.0 1609.7,141.6 536.1,116.6 452.2,119.3 697.1,295.3 1080.8,574.5 1741.7,140.5 1428.2,352.1 1185.8,557.8 1122.9,579.5 1376.1,401.4 1277.6,490.8 851.1,523.4 493.0,111.0 652.0,227.2 1507.3,254.1 1289.4,537.0 1528.6,236.9 422.0,103.1 1681.0,100.5 918.6,561.5 1718.2,111.1 1230.7,529.5 1161.3,539.6 1559.3,204.6 1276.1,533.6 1348.4,441.1 588.3,160.7 1245.3,560.0 880.7,557.4 467.8,122.5 552.4,174.3 1062.0,559.7 742.6,386.4 1481.8,262.3 536.6,144.8 376.9,122.1 1822.3,134.3 816.7,491.4 1106.1,543.7 665.4,285.4 663.6,262.8 948.1,584.4 1517.8,224.7 414.0,150.3 1587.6,150.4 1812.5,123.8 1178.7,546.4 885.9,543.3 700.6,323.8 625.6,205.8 832.0,482.9 1608.7,109.9 361.4,95.5 1512.1,235.7 1337.9,463.9 384.6,105.4 458.9,122.0 1437.3,321.4 1346.3,421.9 817.5,449.7 1622.9,124.4 665.6,304.2 984.3,560.8 525.7,119.9 1305.9,473.6 484.6,121.3 620.5,222.8 1483.3,254.8 1092.1,570.3 1329.7,471.5 1435.7,294.0 1248.4,521.2 647.4,238.3 1383.5,393.0 527.1,139.2 753.3,374.7 1015.5,558.3 524.9,111.9 512.5,125.6 1315.6,486.3 1447.4,321.3 901.6,548.5 929.8,527.6 661.8,262.7 1123.5,596.6 1209.9,581.2 1729.2,148.1 416.3,130.5 1692.6,100.3 1813.0,103.8 865.7,542.0 1423.7,341.7 1569.3,178.3 1313.9,519.9 781.4,454.2 1272.4,556.9 1645.8,81.4 514.0,144.2 1062.3,531.9 389.9,83.2 1598.8,133.2 1501.1,249.5 424.3,126.5 1453.1,310.5 1373.3,397.4 542.2,126.0 1128.7,537.5 1370.1,389.8 849.8,502.2 1097.4,552.4 1791.4,114.2 1291.2,509.1 1094.6,584.6 453.7,103.8 534.8,116.8 1607.4,142.1 1448.4,268.1 1584.3,165.3 1206.5,579.1 1203.5,553.5 1136.7,602.9 1437.3,347.9 842.1,534.2 1086.9,581.3 1047.3,562.7 1329.3,461.4 674.5,262.4 393.5,94.9 486.8,86.5 620.1,204.8 1616.9,128.5 1410.5,339.7 1459.2,313.1 1009.7,573.5 507.7,79.6 1040.7,542.2 1625.4,110.6 1105.2,543.0 1285.5,504.0 906.8,587.6 577.3,165.7 1277.9,558.6 1069.6,557.1 864.8,542.7 736.7,335.9 1379.8,392.3 824.0,495.4 1203.4,560.2 738.5,395.5 1464.3,294.9 907.9,545.3 1060.1,553.9 1720.3,156.0 1412.8,369.2 1439.1,316.6 855.5,510.1 1592.1,109.7 923.8,588.1 1809.6,101.3 1673.7,127.5 1325.6,469.0 1579.0,140.8 1156.5,544.5 1434.4,347.0 540.1,120.7 1810.0,139.1 1533.1,239.2 566.0,137.6 713.3,337.7 1201.9,596.0 1478.0,297.2 575.5,161.0 1768.9,78.3 865.2,505.0 1819.4,95.2 1463.0,337.3 1070.4,562.1 889.9,539.6 498.5,104.5 485.9,103.8 1282.0,533.0 1493.8,218.7 1690.9,80.0 893.2,554.3 1735.1,134.9 793.1,392.2 1738.4,125.4 1707.5,86.3 584.5,130.1 1622.1,137.5 1391.2,383.0 1389.3,399.6 1592.2,124.0 1145.6,552.7 1101.7,516.4 896.2,540.5 1628.7,115.1 1681.4,87.9 592.7,189.1 1491.8,268.7 761.7,348.1 626.9,245.0 646.6,262.5 1199.5,558.9 767.9,429.6 712.8,383.0 501.4,89.8 834.0,507.6 1494.7,269.0 388.4,121.3 1066.2,581.8 1242.8,580.6 429.6,109.4 788.8,379.0 1689.3,96.6 1818.5,96.3 1606.7,157.1 606.1,200.7 1480.1,302.1 1019.5,542.6 607.5,207.0 1063.6,559.0 1713.4,115.0 1646.3,126.3 932.2,593.8 449.8,100.1 1680.6,143.9 1806.6,139.4 1108.5,566.6 687.8,319.9 1156.1,554.1 1380.3,380.9 1065.5,554.3 874.9,534.1 720.9,345.7 793.1,418.8 429.9,154.3 731.6,351.6 1757.9,133.9 368.5,140.6 1426.1,344.6 1516.5,237.7 951.6,546.9 1231.7,534.2 681.4,347.9 1338.8,458.2 1397.2,337.9 1436.6,312.0 1079.5,527.6 1783.3,110.8 1630.2,146.7 1198.2,585.0 1359.8,413.7 760.6,375.3 1743.9,129.4 1305.1,505.6 1672.3,107.2 781.0,461.7 1800.9,120.9 511.7,78.0 1136.3,511.1 519.0,117.9 635.6,196.8 1480.0,287.4 453.8,131.1 919.3,609.2 638.4,219.8 1606.7,131.9 477.7,60.8 851.4,504.6 1615.4,114.6 1366.5,461.4 1390.6,356.6 1813.8,121.1 391.1,116.6 1334.0,511.9 1451.8,291.1 1456.6,283.6 1406.3,383.5 462.8,110.9 480.0,104.2 1492.8,237.8 1256.0,548.5 742.8,335.5 370.3,118.4 1140.9,573.4 489.6,123.5 1456.9,362.0 857.5,537.4 1543.7,171.5 497.1,107.2 1082.8,578.1 503.3,105.6 1503.9,290.2 1179.9,566.2 701.7,309.9 1772.2,97.3 1359.3,447.5 851.1,491.1 1614.1,77.5 915.3,568.2 1742.2,96.4 793.4,473.2 892.5,441.3 1020.8,634.6 989.3,623.4 1633.2,44.7 1151.4,482.6 996.0,493.8 1272.9,460.3 1826.8,106.1 647.1,178.7 379.1,67.0 394.9,64.8 476.0,59.2 433.2,61.4" fill="none" stroke="none" marker-start="url(#mc)" marker-mid="url(#mc)" marker-end="url(#mc)"/>
<polyline id="meas" points="365.6,111.7 370.1,111.7 374.6,111.7 379.1,111.7 383.6,111.7 388.2,111.7 392.7,111.7 397.2,111.7 401.7,111.7 406.2,111.7 410.7,111.7 415.2,111.7 419.7,111.7 424.2,111.7 428.7,111.7 433.2,111.7 437.7,111.7 442.2,111.7 446.7,111.7 451.2,111.7 455.7,111.7 460.2,111.7 464.7,111.7 469.2,111.7 473.7,111.7 478.2,111.7 482.7,111.7 487.2,111.7 491.7,111.7 496.2,111.7 500.7,111.7 505.2,111.7 509.7,111.7 514.2,111.7 518.7,111.7 523.2,111.7 527.7,111.7 532.2,111.7 536.7,111.7 541.2,111.7 545.7,111.7 550.3,117.4 554.8,123.2 559.3,128.9 563.8,134.6 568.3,140.4 572.8,146.1 577.3,151.8 581.8,157.5 586.3,163.3 590.8,169.0 595.3,174.7 599.8,180.5 604.3,186.2 608.8,191.9 613.3,197.7 617.8,203.4 622.3,209.1 626.8,214.8 631.3,220.6 635.8,226.3 640.3,232.0 644.8,237.8 649.3,243.5 653.8,249.2 658.3,254.9 662.8,260.7 667.3,266.4 671.8,272.1 676.3,277.9 680.8,283.6 685.3,289.3 689.8,295.0 694.3,300.8 698.8,306.5 703.3,312.2 707.8,318.0 712.3,323.7 716.9,329.4 721.4,335.1 725.9,340.9 730.4,346.6 734.9,352.3 739.4,358.1 743.9,363.8 748.4,369.5 752.9,375.3 757.4,381.0 761.9,386.7 766.4,392.4 770.9,398.2 775.4,403.9 779.9,409.6 784.4,415.4 788.9,421.1 793.4,426.8 797.9,432.5 802.4,438.3 806.9,444.0 811.4,449.7 815.9,455.5 820.4,461.2 824.9,466.9 829.4,472.6 833.9,478.4 838.4,484.1 842.9,489.8 847.4,495.6 851.9,501.3 856.4,507.0 860.9,512.8 865.4,518.5 869.9,524.2 874.4,529.9 879.0,535.7 883.5,541.4 888.0,547.1 892.5,552.9 897.0,558.6 901.5,558.6 906.0,558.6 910.5,558.6 915.0,558.6 919.5,558.6 924.0,558.6 928.5,558.6 933.0,558.6 937.5,558.6 942.0,558.6 946.5,558.6 951.0,558.6 955.5,558.6 960.0,558.6 964.5,558.6 969.0,558.6 973.5,558.6 978.0,558.6 982.5,558.6 987.0,558.6 991.5,558.6 996.0,558.6 1000.5,558.6 1005.0,558.6 1009.5,558.6 1014.0,558.6 1018.5,558.6 1023.0,558.6 1027.5,558.6 1032.0,558.6 1036.5,558.6 1041.0,558.6 1045.6,558.6 1050.1,558.6 1054.6,558.6 1059.1,558.6 1063.6,558.6 1068.1,558.6 1072.6,558.6 1077.1,558.6 1081.6,558.6 1086.1,558.6 1090.6,558.6 1095.1,558.6 1099.6,558.6 1104.1,558.6 1108.6,558.6 1113.1,558.6 1117.6,558.6 1122.1,558.6 1126.6,558.6 1131.1,558.6 1135.6,558.6 1140.1,558.6 1144.6,558.6 1149.1,558.6 1153.6,558.6 1158.1,558.6 1162.6,558.6 1167.1,558.6 1171.6,558.6 1176.1,558.6 1180.6,558.6 1185.1,558.6 1189.6,558.6 1194.1,558.6 1198.6,558.6 1203.1,558.6 1207.7,558.6 1212.2,558.6 1216.7,558.6 1221.2,558.6 1225.7,558.6 1230.2,558.6 1234.7,558.6 1239.2,558.6 1243.7,558.6 1248.2,558.6 1252.7,558.6 1257.2,558.6 1261.7,558.6 1266.2,558.6 1270.7,552.8 1275.2,547.1 1279.7,541.3 1284.2,535.5 1288.7,529.8 1293.2,524.0 1297.7,518.2 1302.2,512.5 1306.7,506.7 1311.2,500.9 1315.7,495.2 1320.2,489.4 1324.7,483.6 1329.2,477.9 1333.7,472.1 1338.2,466.3 1342.7,460.6 1347.2,454.8 1351.7,449.0 1356.2,443.3 1360.7,437.5 1365.2,431.7 1369.8,426.0 1374.3,420.2 1378.8,414.4 1383.3,408.7 1387.8,402.9 1392.3,397.1 1396.8,391.4 1401.3,385.6 1405.8,379.8 1410.3,374.1 1414.8,368.3 1419.3,362.5 1423.8,356.8 1428.3,351.0 1432.8,345.2 1437.3,339.5 1441.8,333.7 1446.3,327.9 1450.8,322.2 1455.3,316.4 1459.8,310.6 1464.3,304.9 1468.8,299.1 1473.3,293.3 1477.8,287.6 1482.3,281.8 1486.8,276.0 1491.3,270.3 1495.8,264.5 1500.3,258.8 1504.8,253.0 1509.3,247.2 1513.8,241.5 1518.3,235.7 1522.8,229.9 1527.3,224.2 1531.8,218.4 1536.4,212.6 1540.9,206.9 1545.4,201.1 1549.9,195.3 1554.4,189.6 1558.9,183.8 1563.4,178.0 1567.9,172.3 1572.4,166.5 1576.9,160.7 1581.4,155.0 1585.9,149.2 1590.4,143.4 1594.9,137.7 1599.4,131.9 1603.9,126.1 1608.4,120.4 1612.9,114.6 1617.4,111.7 1621.9,111.7 1626.4,111.7 1630.9,111.7 1635.4,111.7 1639.9,111.7 1644.4,111.7 1648.9,111.7 1653.4,111.7 1657.9,111.7 1662.4,111.7 1666.9,111.7 1671.4,111.7 1675.9,111.7 1680.4,111.7 1684.9,111.7 1689.4,111.7 1693.9,111.7 1698.5,111.7 1703.0,111.7 1707.5,111.7 1712.0,111.7 1716.5,111.7 1721.0,111.7 1725.5,111.7 1730.0,111.7 1734.5,111.7 1739.0,111.7 1743.5,111.7 1748.0,111.7 1752.5,111.7 1757.0,111.7 1761.5,111.7 1766.0,111.7 1770.5,111.7 1775.0,111.7 1779.5,111.7 1784.0,111.7 1788.5,111.7 1793.0,111.7 1797.5,111.7 1802.0,111.7 1806.5,111.7 1811.0,111.7 1815.5,111.7" fill="none" stroke="#0000ff" stroke-width="7.6" stroke-linejoin="round" marker-start="url(#mx)" marker-mid="url(#mx)" marker-end="url(#mx)"/>
</defs>
<rect width="1979" height="2717" fill="#fff"/>

<g transform="translate(0,46.1)">
<use href="#cloud" filter="url(#bl)"/>
<use href="#meas"/>
<polyline points="365.6,136.3 374.6,106.1 383.6,102.8 392.7,102.8 401.7,100.5 410.7,98.3 419.7,97.2 428.7,60.3 437.7,128.5 446.7,165.3 455.7,134.1 464.7,139.6 473.7,128.5 482.7,169.8 491.7,128.5 500.7,63.7 509.7,93.8 518.7,80.4 527.7,156.4 536.7,134.1 545.7,107.2 554.8,128.5 563.8,156.4 572.8,127.4 581.8,145.2 590.8,154.2 599.8,148.6 608.8,178.7 617.8,245.8 626.8,240.2 635.8,229.0 644.8,231.3 653.8,264.8 662.8,236.8 671.8,256.9 680.8,259.2 689.8,271.5 698.8,334.1 707.8,315.2 716.9,327.6 725.9,361.4 734.9,363.8 743.9,365.0 752.9,391.1 761.9,388.4 770.9,396.6 779.9,409.0 788.9,429.6 797.9,422.6 806.9,429.1 815.9,450.1 824.9,480.6 833.9,466.1 842.9,498.2 851.9,486.6 860.9,530.7 869.9,508.9 879.0,530.7 888.0,547.4 897.0,558.6 906.0,610.0 915.0,569.8 924.0,575.3 933.0,572.0 942.0,517.2 951.0,558.6 960.0,535.1 969.0,580.9 978.0,575.3 987.0,626.7 996.0,572.0 1005.0,564.2 1014.0,553.0 1023.0,547.4 1032.0,547.4 1041.0,536.2 1050.1,564.2 1059.1,579.8 1068.1,604.4 1077.1,576.5 1086.1,569.8 1095.1,574.2 1104.1,564.2 1113.1,558.6 1122.1,622.3 1131.1,546.3 1140.1,595.4 1149.1,532.9 1158.1,558.6 1167.1,550.8 1176.1,569.8 1185.1,535.1 1194.1,589.9 1203.1,564.2 1212.2,574.2 1221.2,602.2 1230.2,569.8 1239.2,569.8 1248.2,567.5 1257.2,618.9 1266.2,564.2 1275.2,532.6 1284.2,537.6 1293.2,520.6 1302.2,499.9 1311.2,502.3 1320.2,511.9 1329.2,511.1 1338.2,444.8 1347.2,464.5 1356.2,462.6 1365.2,437.1 1374.3,431.2 1383.3,402.2 1392.3,404.4 1401.3,393.2 1410.3,393.9 1419.3,362.5 1428.3,376.2 1437.3,336.1 1446.3,310.2 1455.3,349.8 1464.3,354.0 1473.3,290.8 1482.3,246.9 1491.3,294.9 1500.3,270.4 1509.3,344.1 1518.3,234.6 1527.3,215.6 1536.4,212.3 1545.4,217.8 1554.4,184.3 1563.4,233.5 1572.4,167.6 1581.4,154.2 1590.4,127.4 1599.4,134.1 1608.4,97.2 1617.4,78.2 1626.4,111.7 1635.4,106.1 1644.4,138.5 1653.4,111.7 1662.4,63.7 1671.4,132.9 1680.4,111.7 1689.4,134.1 1698.5,92.7 1707.5,111.7 1716.5,106.1 1725.5,82.7 1734.5,106.1 1743.5,130.7 1752.5,97.2 1761.5,111.7 1770.5,149.7 1779.5,111.7 1788.5,109.5 1797.5,111.7 1806.5,114.0 1815.5,115.1" fill="none" stroke="#000" stroke-width="5.5" stroke-dasharray="5.5 4.5" marker-start="url(#mt)" marker-mid="url(#mt)" marker-end="url(#mt)"/>
<path d="M365.6,670.3v-18.5M365.6,0v18.5" stroke="#262626" stroke-width="2.6"/>
<path d="M590.8,670.3v-18.5M590.8,0v18.5" stroke="#808080" stroke-width="2.6"/>
<path d="M815.9,670.3v-18.5M815.9,0v18.5" stroke="#d4d4d4" stroke-width="2.6"/>
<path d="M1041.0,670.3v-18.5M1041.0,0v18.5" stroke="#808080" stroke-width="2.6"/>
<path d="M1266.2,670.3v-18.5M1266.2,0v18.5" stroke="#262626" stroke-width="2.6"/>
<path d="M1491.3,670.3v-18.5M1491.3,0v18.5" stroke="#808080" stroke-width="2.6"/>
<path d="M1716.5,670.3v-18.5M1716.5,0v18.5" stroke="#d4d4d4" stroke-width="2.6"/>
<path d="M140.5,558.6h18.5M1941.6,558.6h-18.5" stroke="#c8c8c8" stroke-width="2.6"/>
<path d="M140.5,446.9h18.5M1941.6,446.9h-18.5" stroke="#262626" stroke-width="2.6"/>
<path d="M140.5,335.1h18.5M1941.6,335.1h-18.5" stroke="#c8c8c8" stroke-width="2.6"/>
<path d="M140.5,223.4h18.5M1941.6,223.4h-18.5" stroke="#262626" stroke-width="2.6"/>
<path d="M140.5,111.7h18.5M1941.6,111.7h-18.5" stroke="#c8c8c8" stroke-width="2.6"/>
<path d="M139.2,0H1942.8999999999999" stroke="#262626" stroke-width="2.6"/>
<path d="M139.2,670.3H1942.8999999999999" stroke="#4a4a4a" stroke-width="2.6"/>
<path d="M1941.6,0V670.3" stroke="#c8c8c8" stroke-width="2.6"/>
<path d="M140.5,-1.3V671.5999999999999" stroke="#262626" stroke-width="2.6"/>
<text x="140.5" y="722.1" font-size="38.2" text-anchor="middle">-5</text>
<text x="365.6" y="722.1" font-size="38.2" text-anchor="middle">0</text>
<text x="590.8" y="722.1" font-size="38.2" text-anchor="middle">5</text>
<text x="815.9" y="722.1" font-size="38.2" text-anchor="middle">10</text>
<text x="1041.0" y="722.1" font-size="38.2" text-anchor="middle">15</text>
<text x="1266.2" y="722.1" font-size="38.2" text-anchor="middle">20</text>
<text x="1491.3" y="722.1" font-size="38.2" text-anchor="middle">25</text>
<text x="1716.5" y="722.1" font-size="38.2" text-anchor="middle">30</text>
<text x="1941.6" y="722.1" font-size="38.2" text-anchor="middle">35</text>
<text x="125.5" y="686.3" font-size="38.2" text-anchor="end">17</text>
<text x="125.5" y="574.6" font-size="38.2" text-anchor="end">18</text>
<text x="125.5" y="462.9" font-size="38.2" text-anchor="end">19</text>
<text x="125.5" y="351.1" font-size="38.2" text-anchor="end">20</text>
<text x="125.5" y="239.4" font-size="38.2" text-anchor="end">21</text>
<text x="125.5" y="127.7" font-size="38.2" text-anchor="end">22</text>
<text x="125.5" y="16.0" font-size="38.2" text-anchor="end">23</text>
<text x="1041.0" y="776.6" font-size="41.5" text-anchor="middle">X(m)</text>
<text transform="translate(66.1,335.1) rotate(-90)" font-size="41.5" text-anchor="middle">Height (m)</text>
<text x="179.0" y="61.3" font-size="38.8" letter-spacing="-0.35" fill="#000">(a)KNN</text>
<rect x="1642.3" y="502.1" width="276.1" height="145.2" fill="#fff" stroke="#262626" stroke-width="2.6"/>
<path d="M1642.3,502.1V647.3" stroke="#fff" stroke-width="3.4"/><path d="M1642.3,500.8V648.6" stroke="#c8c8c8" stroke-width="2.6"/>
<circle cx="1692.3" cy="528.8" r="8.3" fill="none" stroke="#f00" stroke-width="1.8" stroke-opacity="0.8"/>
<path d="M1650.9,574.7H1733.9" stroke="#00f" stroke-width="7"/><path d="M1687.3,569.7l10,10m0,-10l-10,10" stroke="#00f" stroke-width="3"/><rect x="1686.3" y="568.7" width="12" height="12" fill="#00f"/>
<path d="M1650.9,620.5H1733.9" stroke="#000" stroke-width="6" stroke-dasharray="6.4 4.4"/>
<path d="M1678.6,612.6h27.4l-13.7,23.7ZM1689.9,618.9h4.8l-2.4,4.2Z" fill="#000" fill-rule="evenodd"/>
<text x="1740.2" y="542.9" font-size="34.4" fill="#000">PointCloud</text>
<text x="1740.2" y="588.3" font-size="34.4" fill="#000">Measured</text>
<text x="1740.2" y="633.2" font-size="34.4" fill="#000">KNN</text>
</g>
<g transform="translate(0,975.3)">
<use href="#cloud" filter="url(#bl)"/>
<use href="#meas"/>
<polyline points="365.6,132.9 374.6,108.4 383.6,108.4 392.7,109.5 401.7,106.1 410.7,111.7 419.7,98.3 428.7,134.1 437.7,98.3 446.7,136.3 455.7,78.2 464.7,102.8 473.7,106.1 482.7,168.7 491.7,97.2 500.7,132.9 509.7,90.5 518.7,95.0 527.7,129.6 536.7,109.5 545.7,105.0 554.8,141.9 563.8,157.5 572.8,145.2 581.8,150.8 590.8,202.2 599.8,226.8 608.8,159.8 617.8,239.1 626.8,185.4 635.8,265.9 644.8,253.6 653.8,234.6 662.8,226.8 671.8,229.0 680.8,214.5 689.8,278.2 698.8,320.6 707.8,287.1 716.9,356.4 725.9,351.9 734.9,384.3 743.9,357.5 752.9,350.8 761.9,389.5 770.9,377.6 779.9,410.8 788.9,414.4 797.9,434.3 806.9,443.9 815.9,450.3 824.9,474.1 833.9,479.2 842.9,488.0 851.9,500.9 860.9,507.7 869.9,512.3 879.0,534.3 888.0,548.5 897.0,569.8 906.0,547.4 915.0,596.6 924.0,547.4 933.0,534.0 942.0,574.2 951.0,520.6 960.0,547.4 969.0,508.3 978.0,536.2 987.0,513.9 996.0,525.1 1005.0,553.0 1014.0,569.8 1023.0,545.2 1032.0,558.6 1041.0,587.6 1050.1,564.2 1059.1,580.9 1068.1,569.8 1077.1,589.9 1086.1,564.2 1095.1,572.5 1104.1,560.8 1113.1,559.6 1122.1,569.8 1131.1,536.2 1140.1,563.1 1149.1,580.9 1158.1,596.0 1167.1,564.2 1176.1,589.9 1185.1,524.0 1194.1,557.0 1203.1,574.2 1212.2,559.7 1221.2,529.5 1230.2,569.8 1239.2,579.7 1248.2,558.6 1257.2,555.9 1266.2,558.6 1275.2,462.5 1284.2,547.4 1293.2,536.4 1302.2,512.2 1311.2,488.6 1320.2,487.8 1329.2,480.2 1338.2,456.9 1347.2,408.9 1356.2,446.6 1365.2,436.5 1374.3,401.3 1383.3,418.6 1392.3,451.3 1401.3,386.4 1410.3,344.1 1419.3,354.1 1428.3,360.5 1437.3,339.2 1446.3,331.7 1455.3,316.6 1464.3,305.7 1473.3,335.1 1482.3,290.2 1491.3,273.6 1500.3,261.5 1509.3,257.3 1518.3,242.5 1527.3,203.1 1536.4,246.9 1545.4,209.1 1554.4,182.9 1563.4,182.1 1572.4,163.7 1581.4,157.2 1590.4,178.7 1599.4,132.1 1608.4,117.8 1617.4,77.1 1626.4,115.8 1635.4,110.7 1644.4,155.3 1653.4,109.9 1662.4,119.6 1671.4,98.3 1680.4,116.2 1689.4,103.1 1698.5,102.8 1707.5,140.8 1716.5,118.7 1725.5,121.2 1734.5,116.2 1743.5,79.3 1752.5,111.6 1761.5,113.3 1770.5,84.9 1779.5,113.2 1788.5,144.1 1797.5,112.2 1806.5,106.1 1815.5,106.1" fill="none" stroke="#000" stroke-width="5.5" stroke-dasharray="5.5 4.5" marker-start="url(#mt)" marker-mid="url(#mt)" marker-end="url(#mt)"/>
<path d="M365.6,670.3v-18.5M365.6,0v18.5" stroke="#262626" stroke-width="2.6"/>
<path d="M590.8,670.3v-18.5M590.8,0v18.5" stroke="#808080" stroke-width="2.6"/>
<path d="M815.9,670.3v-18.5M815.9,0v18.5" stroke="#d4d4d4" stroke-width="2.6"/>
<path d="M1041.0,670.3v-18.5M1041.0,0v18.5" stroke="#808080" stroke-width="2.6"/>
<path d="M1266.2,670.3v-18.5M1266.2,0v18.5" stroke="#262626" stroke-width="2.6"/>
<path d="M1491.3,670.3v-18.5M1491.3,0v18.5" stroke="#808080" stroke-width="2.6"/>
<path d="M1716.5,670.3v-18.5M1716.5,0v18.5" stroke="#d4d4d4" stroke-width="2.6"/>
<path d="M140.5,558.6h18.5M1941.6,558.6h-18.5" stroke="#c8c8c8" stroke-width="2.6"/>
<path d="M140.5,446.9h18.5M1941.6,446.9h-18.5" stroke="#444" stroke-width="2.6"/>
<path d="M140.5,335.1h18.5M1941.6,335.1h-18.5" stroke="#262626" stroke-width="2.6"/>
<path d="M140.5,223.4h18.5M1941.6,223.4h-18.5" stroke="#c8c8c8" stroke-width="2.6"/>
<path d="M140.5,111.7h18.5M1941.6,111.7h-18.5" stroke="#262626" stroke-width="2.6"/>
<path d="M139.2,0H1942.8999999999999" stroke="#c8c8c8" stroke-width="2.6"/>
<path d="M139.2,670.3H1942.8999999999999" stroke="#262626" stroke-width="2.6"/>
<path d="M1941.6,0V670.3" stroke="#c8c8c8" stroke-width="2.6"/>
<path d="M140.5,-1.3V671.5999999999999" stroke="#262626" stroke-width="2.6"/>
<text x="140.5" y="722.1" font-size="38.2" text-anchor="middle">-5</text>
<text x="365.6" y="722.1" font-size="38.2" text-anchor="middle">0</text>
<text x="590.8" y="722.1" font-size="38.2" text-anchor="middle">5</text>
<text x="815.9" y="722.1" font-size="38.2" text-anchor="middle">10</text>
<text x="1041.0" y="722.1" font-size="38.2" text-anchor="middle">15</text>
<text x="1266.2" y="722.1" font-size="38.2" text-anchor="middle">20</text>
<text x="1491.3" y="722.1" font-size="38.2" text-anchor="middle">25</text>
<text x="1716.5" y="722.1" font-size="38.2" text-anchor="middle">30</text>
<text x="1941.6" y="722.1" font-size="38.2" text-anchor="middle">35</text>
<text x="125.5" y="685.1" font-size="38.2" text-anchor="end">17</text>
<text x="125.5" y="573.4" font-size="38.2" text-anchor="end">18</text>
<text x="125.5" y="461.7" font-size="38.2" text-anchor="end">19</text>
<text x="125.5" y="349.9" font-size="38.2" text-anchor="end">20</text>
<text x="125.5" y="238.2" font-size="38.2" text-anchor="end">21</text>
<text x="125.5" y="126.5" font-size="38.2" text-anchor="end">22</text>
<text x="125.5" y="14.8" font-size="38.2" text-anchor="end">23</text>
<text x="1041.0" y="776.6" font-size="41.5" text-anchor="middle">X(m)</text>
<text transform="translate(66.1,335.1) rotate(-90)" font-size="41.5" text-anchor="middle">Height (m)</text>
<text x="179.0" y="61.3" font-size="38.8" letter-spacing="-0.35" fill="#000">(b)KNN1</text>
<rect x="1642.3" y="502.1" width="276.1" height="145.2" fill="#fff" stroke="#262626" stroke-width="2.6"/>
<path d="M1642.3,502.1V647.3" stroke="#fff" stroke-width="3.4"/><path d="M1642.3,500.8V648.6" stroke="#c8c8c8" stroke-width="2.6"/>
<circle cx="1692.3" cy="528.8" r="8.3" fill="none" stroke="#f00" stroke-width="1.8" stroke-opacity="0.8"/>
<path d="M1650.9,574.7H1733.9" stroke="#00f" stroke-width="7"/><path d="M1687.3,569.7l10,10m0,-10l-10,10" stroke="#00f" stroke-width="3"/><rect x="1686.3" y="568.7" width="12" height="12" fill="#00f"/>
<path d="M1650.9,620.5H1733.9" stroke="#000" stroke-width="6" stroke-dasharray="6.4 4.4"/>
<path d="M1678.6,612.6h27.4l-13.7,23.7ZM1689.9,618.9h4.8l-2.4,4.2Z" fill="#000" fill-rule="evenodd"/>
<text x="1740.2" y="542.9" font-size="34.4" fill="#000">PointCloud</text>
<text x="1740.2" y="588.3" font-size="34.4" fill="#000">Measured</text>
<text x="1740.2" y="633.2" font-size="34.4" fill="#000">KNN1</text>
</g>
<g transform="translate(0,1905.1)">
<use href="#cloud" filter="url(#bl)"/>
<use href="#meas"/>
<polyline points="365.6,112.9 374.6,114.4 383.6,111.3 392.7,109.4 401.7,107.3 410.7,110.3 419.7,112.2 428.7,112.9 437.7,108.4 446.7,105.9 455.7,109.8 464.7,114.2 473.7,113.4 482.7,105.4 491.7,108.4 500.7,112.9 509.7,107.2 518.7,111.1 527.7,112.1 536.7,115.1 545.7,122.4 554.8,128.2 563.8,140.3 572.8,152.7 581.8,161.1 590.8,171.2 599.8,189.8 608.8,197.3 617.8,210.8 626.8,219.9 635.8,234.6 644.8,242.3 653.8,253.9 662.8,266.1 671.8,279.8 680.8,289.3 689.8,302.8 698.8,315.0 707.8,321.9 716.9,337.2 725.9,342.1 734.9,354.8 743.9,374.2 752.9,379.0 761.9,394.5 770.9,402.7 779.9,414.1 788.9,431.4 797.9,437.8 806.9,449.3 815.9,457.2 824.9,474.9 833.9,480.8 842.9,497.6 851.9,506.8 860.9,519.5 869.9,523.8 879.0,536.8 888.0,540.8 897.0,551.7 906.0,552.5 915.0,553.0 924.0,556.9 933.0,554.7 942.0,549.8 951.0,554.1 960.0,551.5 969.0,551.3 978.0,549.8 987.0,554.2 996.0,555.1 1005.0,555.5 1014.0,557.5 1023.0,561.2 1032.0,556.2 1041.0,562.7 1050.1,562.6 1059.1,563.0 1068.1,556.6 1077.1,560.6 1086.1,562.5 1095.1,562.3 1104.1,557.1 1113.1,560.7 1122.1,560.6 1131.1,554.5 1140.1,559.1 1149.1,556.7 1158.1,556.9 1167.1,559.3 1176.1,559.3 1185.1,556.4 1194.1,562.9 1203.1,565.6 1212.2,567.3 1221.2,562.4 1230.2,562.7 1239.2,560.4 1248.2,561.5 1257.2,559.3 1266.2,554.1 1275.2,543.1 1284.2,529.9 1293.2,520.1 1302.2,507.4 1311.2,490.8 1320.2,483.4 1329.2,477.8 1338.2,456.7 1347.2,449.2 1356.2,441.4 1365.2,424.5 1374.3,415.5 1383.3,405.8 1392.3,394.4 1401.3,383.9 1410.3,369.3 1419.3,354.8 1428.3,347.3 1437.3,333.6 1446.3,317.9 1455.3,315.3 1464.3,299.5 1473.3,289.6 1482.3,280.3 1491.3,268.6 1500.3,254.2 1509.3,241.3 1518.3,232.6 1527.3,219.4 1536.4,205.9 1545.4,195.6 1554.4,182.4 1563.4,172.1 1572.4,160.6 1581.4,145.4 1590.4,138.0 1599.4,129.1 1608.4,118.3 1617.4,119.2 1626.4,116.6 1635.4,112.4 1644.4,112.4 1653.4,109.5 1662.4,113.9 1671.4,118.2 1680.4,108.3 1689.4,110.8 1698.5,117.0 1707.5,110.0 1716.5,113.9 1725.5,119.2 1734.5,115.2 1743.5,115.4 1752.5,109.3 1761.5,116.3 1770.5,117.7 1779.5,118.1 1788.5,116.2 1797.5,116.8 1806.5,114.0 1815.5,111.9" fill="none" stroke="#000" stroke-width="5.5" stroke-dasharray="5.5 4.5" marker-start="url(#mt)" marker-mid="url(#mt)" marker-end="url(#mt)"/>
<path d="M365.6,670.3v-18.5M365.6,0v18.5" stroke="#262626" stroke-width="2.6"/>
<path d="M590.8,670.3v-18.5M590.8,0v18.5" stroke="#808080" stroke-width="2.6"/>
<path d="M815.9,670.3v-18.5M815.9,0v18.5" stroke="#d4d4d4" stroke-width="2.6"/>
<path d="M1041.0,670.3v-18.5M1041.0,0v18.5" stroke="#808080" stroke-width="2.6"/>
<path d="M1266.2,670.3v-18.5M1266.2,0v18.5" stroke="#262626" stroke-width="2.6"/>
<path d="M1491.3,670.3v-18.5M1491.3,0v18.5" stroke="#808080" stroke-width="2.6"/>
<path d="M1716.5,670.3v-18.5M1716.5,0v18.5" stroke="#d4d4d4" stroke-width="2.6"/>
<path d="M140.5,558.6h18.5M1941.6,558.6h-18.5" stroke="#262626" stroke-width="2.6"/>
<path d="M140.5,446.9h18.5M1941.6,446.9h-18.5" stroke="#b8b8b8" stroke-width="2.6"/>
<path d="M140.5,335.1h18.5M1941.6,335.1h-18.5" stroke="#262626" stroke-width="2.6"/>
<path d="M140.5,223.4h18.5M1941.6,223.4h-18.5" stroke="#999" stroke-width="2.6"/>
<path d="M140.5,111.7h18.5M1941.6,111.7h-18.5" stroke="#c8c8c8" stroke-width="2.6"/>
<path d="M139.2,0H1942.8999999999999" stroke="#262626" stroke-width="2.6"/>
<path d="M139.2,670.3H1942.8999999999999" stroke="#c8c8c8" stroke-width="2.6"/>
<path d="M1941.6,0V670.3" stroke="#c8c8c8" stroke-width="2.6"/>
<path d="M140.5,-1.3V671.5999999999999" stroke="#262626" stroke-width="2.6"/>
<text x="140.5" y="722.1" font-size="38.2" text-anchor="middle">-5</text>
<text x="365.6" y="722.1" font-size="38.2" text-anchor="middle">0</text>
<text x="590.8" y="722.1" font-size="38.2" text-anchor="middle">5</text>
<text x="815.9" y="722.1" font-size="38.2" text-anchor="middle">10</text>
<text x="1041.0" y="722.1" font-size="38.2" text-anchor="middle">15</text>
<text x="1266.2" y="722.1" font-size="38.2" text-anchor="middle">20</text>
<text x="1491.3" y="722.1" font-size="38.2" text-anchor="middle">25</text>
<text x="1716.5" y="722.1" font-size="38.2" text-anchor="middle">30</text>
<text x="1941.6" y="722.1" font-size="38.2" text-anchor="middle">35</text>
<text x="125.5" y="684.8" font-size="38.2" text-anchor="end">17</text>
<text x="125.5" y="573.1" font-size="38.2" text-anchor="end">18</text>
<text x="125.5" y="461.4" font-size="38.2" text-anchor="end">19</text>
<text x="125.5" y="349.6" font-size="38.2" text-anchor="end">20</text>
<text x="125.5" y="237.9" font-size="38.2" text-anchor="end">21</text>
<text x="125.5" y="126.2" font-size="38.2" text-anchor="end">22</text>
<text x="125.5" y="14.5" font-size="38.2" text-anchor="end">23</text>
<text x="1041.0" y="776.6" font-size="41.5" text-anchor="middle">X(m)</text>
<text transform="translate(66.1,335.1) rotate(-90)" font-size="41.5" text-anchor="middle">Height (m)</text>
<text x="179.0" y="61.3" font-size="38.8" letter-spacing="-0.35" fill="#000">(c)KLR</text>
<rect x="1642.3" y="502.1" width="276.1" height="145.2" fill="#fff" stroke="#262626" stroke-width="2.6"/>
<path d="M1642.3,502.1V647.3" stroke="#fff" stroke-width="3.4"/><path d="M1642.3,500.8V648.6" stroke="#c8c8c8" stroke-width="2.6"/>
<circle cx="1692.3" cy="528.8" r="8.3" fill="none" stroke="#f00" stroke-width="1.8" stroke-opacity="0.8"/>
<path d="M1650.9,574.7H1733.9" stroke="#00f" stroke-width="7"/><path d="M1687.3,569.7l10,10m0,-10l-10,10" stroke="#00f" stroke-width="3"/><rect x="1686.3" y="568.7" width="12" height="12" fill="#00f"/>
<path d="M1650.9,620.5H1733.9" stroke="#000" stroke-width="6" stroke-dasharray="6.4 4.4"/>
<path d="M1678.6,612.6h27.4l-13.7,23.7ZM1689.9,618.9h4.8l-2.4,4.2Z" fill="#000" fill-rule="evenodd"/>
<text x="1740.2" y="542.9" font-size="34.4" fill="#000">PointCloud</text>
<text x="1740.2" y="588.3" font-size="34.4" fill="#000">Measured</text>
<text x="1740.2" y="633.2" font-size="34.4" fill="#000">KLR</text>
</g>
</svg>
</body></html>
